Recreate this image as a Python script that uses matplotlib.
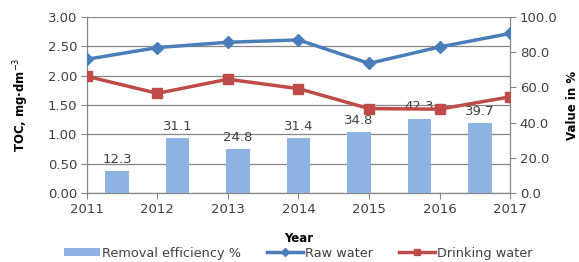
import matplotlib
matplotlib.use("Agg")
import matplotlib.pyplot as plt
import numpy as np
from matplotlib.lines import Line2D

years = [2011, 2012, 2013, 2014, 2015, 2016, 2017]
raw_water = [2.28, 2.48, 2.57, 2.61, 2.21, 2.49, 2.72]
drinking_water = [1.99, 1.70, 1.94, 1.78, 1.44, 1.43, 1.64]
removal_eff = [12.3, 31.1, 24.8, 31.4, 34.8, 42.3, 39.7]

plt.rcParams['font.family'] = ['DejaVu Sans']
fig = plt.figure(figsize=(5.79, 2.62), dpi=100)
ax = fig.add_axes([0.150, 0.263, 0.731, 0.672])
ax_r = ax.twinx()
ax_l = ax.twinx()

gridc = '#868686'
bar_c = '#8DB3E2'
blue = '#4A7EBB'
red = '#BE4B48'
txt = '#404040'

n = len(years)
span = years[-1] - years[0]
slot = span / n
bar_x = years[0] + (np.arange(n) + 0.5) * slot

ax.set_ylim(0, 3.0)
ax.set_yticks(np.arange(0, 3.01, 0.5))
ax.set_yticklabels([f'{v:.2f}' for v in np.arange(0, 3.01, 0.5)])
ax.grid(axis='y', color=gridc, linewidth=0.9)
ax.set_axisbelow(True)
ax.set_xlim(years[0], years[-1])
ax.set_xticks(years)
ax.set_xticklabels([str(y) for y in years])

bars = ax_r.bar(bar_x, removal_eff, width=slot * 0.39, color=bar_c, zorder=2)
ax_r.set_ylim(0, 100)
ax_r.set_yticks(np.arange(0, 100.1, 20))
ax_r.set_yticklabels([f'{v:.1f}' for v in np.arange(0, 100.1, 20)])
for x, v in zip(bar_x, removal_eff):
    ax_r.text(x, v + 3, f'{v:.1f}', ha='center', va='bottom', fontsize=9.5, color=txt)

ax_l.set_ylim(0, 3.0)
ax_l.set_yticks([])
ax_l.plot(years, raw_water, color=blue, lw=2.5, marker='D', markersize=6.5)
ax_l.plot(years, drinking_water, color=red, lw=2.5, marker='s', markersize=6.5)
ax_l.set_xlim(years[0], years[-1])

for a in (ax, ax_r, ax_l):
    for s in a.spines.values():
        s.set_visible(False)
for s in (ax.spines['left'], ax.spines['bottom'], ax_r.spines['right']):
    s.set_visible(True)
    s.set_color(gridc)
    s.set_linewidth(0.9)

ax.tick_params(axis='y', length=4, color=gridc, labelsize=9.5, labelcolor=txt, pad=3)
ax.tick_params(axis='x', length=4, color=gridc, labelsize=9.5, labelcolor=txt, pad=3)
ax_r.tick_params(axis='y', length=4, color=gridc, labelsize=9.5, labelcolor=txt, pad=3)

ax.set_ylabel('TOC, mg·dm$^{-3}$', fontsize=8.5, fontweight='bold', labelpad=12)
ax_r.set_ylabel('Value in %', fontsize=8.5, fontweight='bold', labelpad=6)
ax.set_xlabel('Year', fontsize=8.5, fontweight='bold', labelpad=12)

h_raw = Line2D([], [], color=blue, lw=2.5, marker='D', markersize=4.5)
h_dr = Line2D([], [], color=red, lw=2.5, marker='s', markersize=4.5)
fig.legend(handles=[bars, h_raw, h_dr],
           labels=['Removal efficiency %', 'Raw water', 'Drinking water'],
           loc='lower center', bbox_to_anchor=(0.515, -0.035),
           ncol=3, frameon=False, fontsize=9.3, handlelength=2.8, handleheight=0.6,
           columnspacing=2.0, handletextpad=0.15, labelcolor=txt)

fig.savefig('out.png', dpi=100)
